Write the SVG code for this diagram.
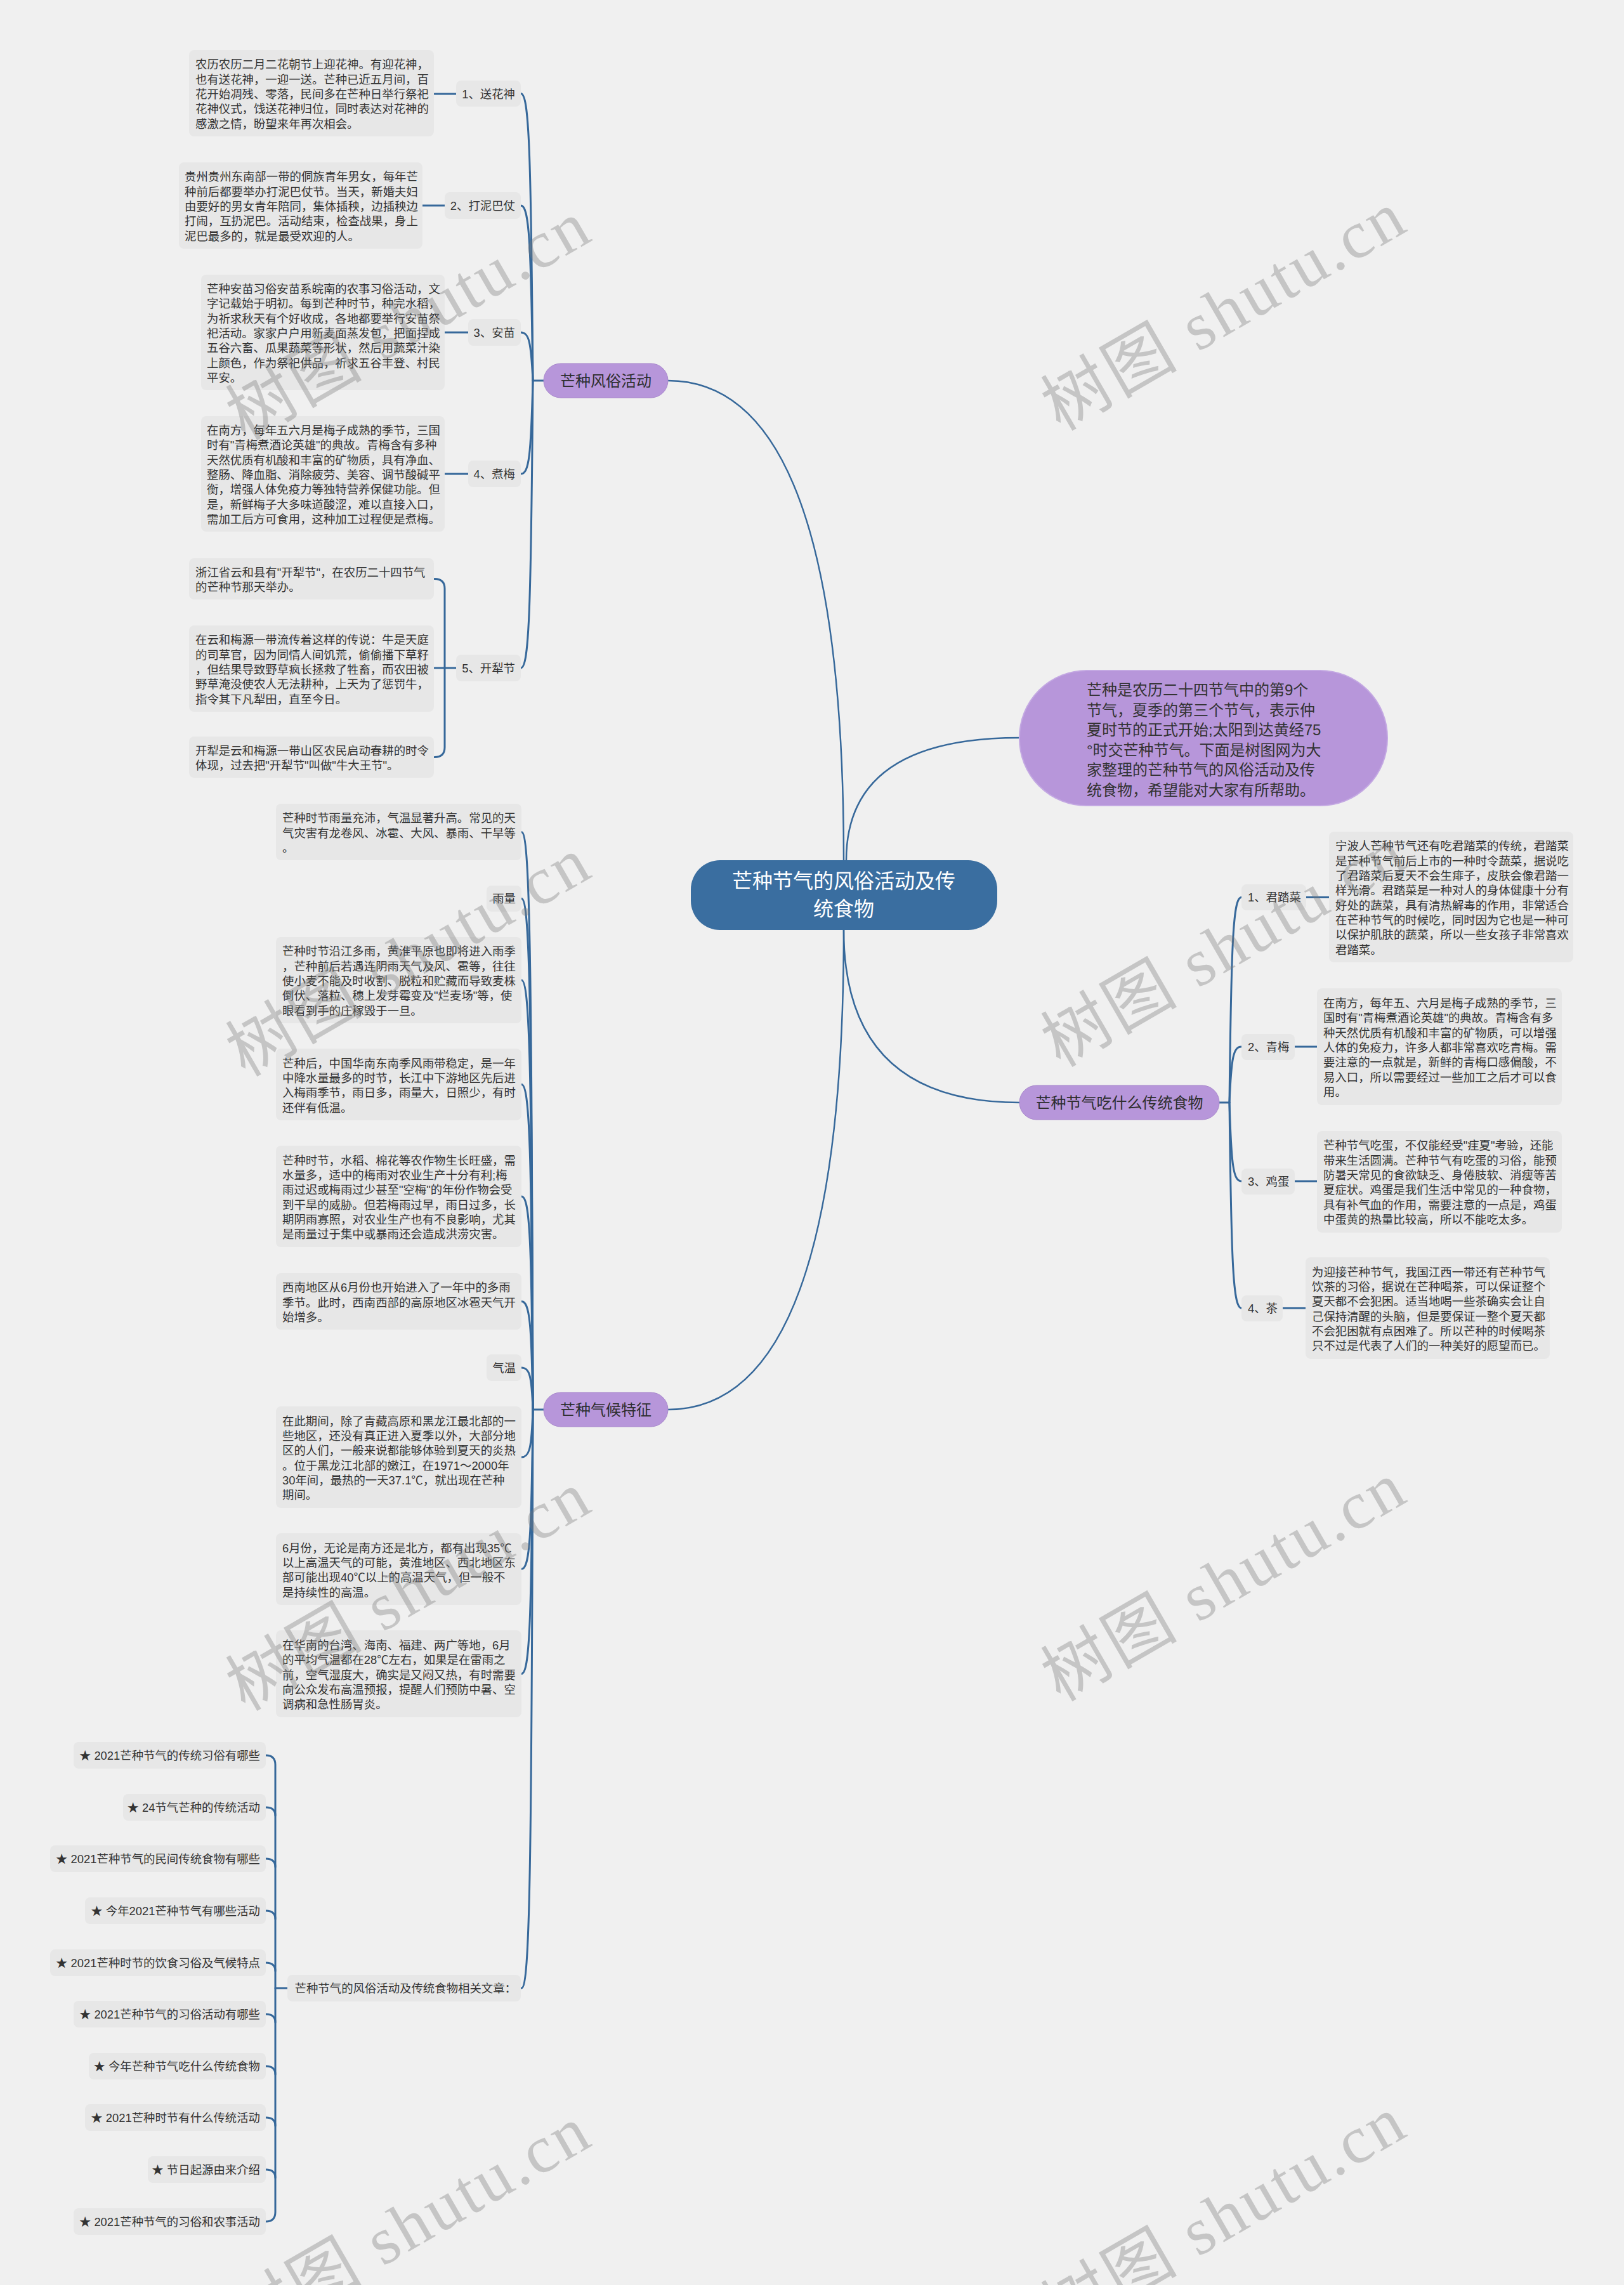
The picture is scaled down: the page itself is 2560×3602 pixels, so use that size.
<svg xmlns="http://www.w3.org/2000/svg" width="2560" height="3602" viewBox="0 0 2560 3602">
<style>
.bg{fill:#f0f0f0}
.box{fill:#e7e7e7}
.t{font-family:"Liberation Sans","Noto Sans CJK SC",sans-serif;font-size:18.4px;fill:#333333;dominant-baseline:central}
.te{font-family:"Liberation Sans","Noto Sans CJK SC",sans-serif;font-size:18.4px;fill:#333333;dominant-baseline:central;text-anchor:end}
.cat{fill:#b796da;stroke:#a887cc;stroke-width:1}
.catt{font-family:"Liberation Sans","Noto Sans CJK SC",sans-serif;font-size:24px;fill:#2e2e2e;dominant-baseline:central;text-anchor:middle}
.ln{fill:none;stroke:#36689a;stroke-width:3;stroke-linecap:round}
.ln2{fill:none;stroke:#36689a;stroke-width:2.5;stroke-linecap:round}
.wm{font-family:"Liberation Serif","Noto Sans CJK SC",serif;font-size:106px;letter-spacing:4px;fill:#7a7a7a;fill-opacity:0.36;text-anchor:middle;dominant-baseline:central}
</style>
<rect class="bg" x="0" y="0" width="2560" height="3602"/>

<g id="connectors">
<path class="ln2" d="M1330 1356 Q1330 600 1053 600"/>
<path class="ln2" d="M1334 1356 Q1334 1163 1607 1163"/>
<path class="ln2" d="M1330 1466 Q1330 1738 1607 1738"/>
<path class="ln2" d="M1330 1466 Q1330 2222 1053 2222"/>
<path class="ln" d="M840 600 L857 600"/>
<path class="ln" d="M821 147.5 C834 147.5 837 238 840 600"/>
<path class="ln" d="M821 324 C834 324 837 379 840 600"/>
<path class="ln" d="M821 524 C834 524 837 539 840 600"/>
<path class="ln" d="M821 747 C834 747 837 718 840 600"/>
<path class="ln" d="M821 1053 C834 1053 837 962 840 600"/>
<path class="ln" d="M685 148 L719 148"/>
<path class="ln" d="M666 324 L701 324"/>
<path class="ln" d="M701 524 L738 524"/>
<path class="ln" d="M701 747 L738 747"/>
<path class="ln" d="M685 1053 L719 1053"/>
<path class="ln" d="M685 912.5 Q701 912.5 701 928 L701 1178 Q701 1193.5 685 1193.5"/>
<path class="ln" d="M840 2222 L857 2222"/>
<path class="ln" d="M822 1311.5 C835 1311.5 838 1493.6 840 2222"/>
<path class="ln" d="M822 1416.5 C835 1416.5 838 1577.6 840 2222"/>
<path class="ln" d="M822 1545 C835 1545 838 1680.4 840 2222"/>
<path class="ln" d="M822 1709.5 C835 1709.5 838 1812 840 2222"/>
<path class="ln" d="M822 1886 C835 1886 838 1953 840 2222"/>
<path class="ln" d="M822 2051.5 C835 2051.5 838 2085.6 840 2222"/>
<path class="ln" d="M822 2156 C835 2156 838 2169 840 2222"/>
<path class="ln" d="M822 2297 C835 2297 838 2282 840 2222"/>
<path class="ln" d="M822 2473.5 C835 2473.5 838 2423 840 2222"/>
<path class="ln" d="M822 2638.5 C835 2638.5 838 2555 840 2222"/>
<path class="ln" d="M822 3134 C835 3134 838 2951.6 840 2222"/>
<path class="ln" d="M434 3134 L453 3134"/>
<path class="ln" d="M419 2767 Q434 2767 434 2782 L434 3487 Q434 3502 419 3502"/>
<path class="ln" d="M419 2849 Q434 2849 434 2862"/>
<path class="ln" d="M419 2930 Q434 2930 434 2943"/>
<path class="ln" d="M419 3012 Q434 3012 434 3025"/>
<path class="ln" d="M419 3094 Q434 3094 434 3107"/>
<path class="ln" d="M419 3175 Q434 3175 434 3188"/>
<path class="ln" d="M419 3257 Q434 3257 434 3270"/>
<path class="ln" d="M419 3338 Q434 3338 434 3351"/>
<path class="ln" d="M419 3420 Q434 3420 434 3433"/>
<path class="ln" d="M1922 1738 L1938 1738"/>
<path class="ln" d="M1957 1414.5 C1944 1414.5 1941 1479 1938 1738"/>
<path class="ln" d="M1957 1650 C1944 1650 1941 1667.6 1938 1738"/>
<path class="ln" d="M1957 1862 C1944 1862 1941 1837 1938 1738"/>
<path class="ln" d="M1957 2062 C1944 2062 1941 1997 1938 1738"/>
<path class="ln" d="M2059 1414.5 L2095 1414.5"/>
<path class="ln" d="M2041 1650 L2076 1650"/>
<path class="ln" d="M2041 1862 L2076 1862"/>
<path class="ln" d="M2022 2062 L2058 2062"/>
</g>

<g id="center">
<rect x="1089" y="1356" width="483" height="110" rx="46" fill="#3a6ea0"/>
<text font-family="Liberation Sans,Noto Sans CJK SC,sans-serif" font-size="32" fill="#ffffff" text-anchor="middle" dominant-baseline="central"><tspan x="1330" y="1389">芒种节气的风俗活动及传</tspan><tspan x="1330" y="1433">统食物</tspan></text>
</g>

<g id="intro">
<rect x="1607" y="1057" width="580" height="213" rx="106" ry="106" fill="#b796da" stroke="#c3a8e2" stroke-width="2"/>
<text font-family="Liberation Sans,Noto Sans CJK SC,sans-serif" font-size="24" fill="#333333" dominant-baseline="central"><tspan x="1713" y="1087">芒种是农历二十四节气中的第9个</tspan><tspan x="1713" y="1118.5">节气，夏季的第三个节气，表示仲</tspan><tspan x="1713" y="1150">夏时节的正式开始;太阳到达黄经75</tspan><tspan x="1713" y="1181.5">°时交芒种节气。下面是树图网为大</tspan><tspan x="1713" y="1213">家整理的芒种节气的风俗活动及传</tspan><tspan x="1713" y="1244.5">统食物，希望能对大家有所帮助。</tspan></text>
</g>

<g id="cat-fengsu">
<rect class="cat" x="857" y="573" width="196" height="54" rx="27"/>
<text class="catt" x="955" y="600">芒种风俗活动</text>
</g>
<g id="cat-qihou">
<rect class="cat" x="857" y="2195" width="196" height="54" rx="27"/>
<text class="catt" x="955" y="2222">芒种气候特征</text>
</g>
<g id="cat-shiwu">
<rect class="cat" x="1607" y="1711" width="315" height="54" rx="27"/>
<text class="catt" x="1764.5" y="1738">芒种节气吃什么传统食物</text>
</g>

<g id="l-songhuashen"><rect class="box" x="719" y="127" width="102" height="41" rx="8"/><text class="te" x="812" y="148">1、送花神</text></g>
<g id="d-songhuashen"><rect class="box" x="298" y="79" width="386" height="136" rx="8"/>
<text class="t"><tspan x="308" y="101.3">农历农历二月二花朝节上迎花神。有迎花神，</tspan><tspan x="308" y="124.7">也有送花神，一迎一送。芒种已近五月间，百</tspan><tspan x="308" y="148">花开始凋残、零落，民间多在芒种日举行祭祀</tspan><tspan x="308" y="171.3">花神仪式，饯送花神归位，同时表达对花神的</tspan><tspan x="308" y="194.7">感激之情，盼望来年再次相会。</tspan></text></g>

<g id="l-danibazhang"><rect class="box" x="701" y="303" width="120" height="42" rx="8"/><text class="te" x="812" y="324">2、打泥巴仗</text></g>
<g id="d-danibazhang"><rect class="box" x="282" y="256" width="384" height="136" rx="8"/>
<text class="t"><tspan x="291" y="278.3">贵州贵州东南部一带的侗族青年男女，每年芒</tspan><tspan x="291" y="301.7">种前后都要举办打泥巴仗节。当天，新婚夫妇</tspan><tspan x="291" y="325">由要好的男女青年陪同，集体插秧，边插秧边</tspan><tspan x="291" y="348.3">打闹，互扔泥巴。活动结束，检查战果，身上</tspan><tspan x="291" y="371.7">泥巴最多的，就是最受欢迎的人。</tspan></text></g>

<g id="l-anmiao"><rect class="box" x="738" y="503" width="83" height="42" rx="8"/><text class="te" x="812" y="524">3、安苗</text></g>
<g id="d-anmiao"><rect class="box" x="317" y="433" width="384" height="182" rx="8"/>
<text class="t"><tspan x="326" y="455">芒种安苗习俗安苗系皖南的农事习俗活动，文</tspan><tspan x="326" y="478.3">字记载始于明初。每到芒种时节，种完水稻，</tspan><tspan x="326" y="501.7">为祈求秋天有个好收成，各地都要举行安苗祭</tspan><tspan x="326" y="525">祀活动。家家户户用新麦面蒸发包，把面捏成</tspan><tspan x="326" y="548.3">五谷六畜、瓜果蔬菜等形状，然后用蔬菜汁染</tspan><tspan x="326" y="571.7">上颜色，作为祭祀供品，祈求五谷丰登、村民</tspan><tspan x="326" y="595">平安。</tspan></text></g>

<g id="l-zhumei"><rect class="box" x="738" y="726" width="83" height="42" rx="8"/><text class="te" x="812" y="747">4、煮梅</text></g>
<g id="d-zhumei"><rect class="box" x="317" y="656" width="384" height="182" rx="8"/>
<text class="t"><tspan x="326" y="678">在南方，每年五六月是梅子成熟的季节，三国</tspan><tspan x="326" y="701.3">时有"青梅煮酒论英雄"的典故。青梅含有多种</tspan><tspan x="326" y="724.7">天然优质有机酸和丰富的矿物质，具有净血、</tspan><tspan x="326" y="748">整肠、降血脂、消除疲劳、美容、调节酸碱平</tspan><tspan x="326" y="771.3">衡，增强人体免疫力等独特营养保健功能。但</tspan><tspan x="326" y="794.7">是，新鲜梅子大多味道酸涩，难以直接入口，</tspan><tspan x="326" y="818">需加工后方可食用，这种加工过程便是煮梅。</tspan></text></g>

<g id="l-kailijie"><rect class="box" x="719" y="1032" width="102" height="42" rx="8"/><text class="te" x="812" y="1053">5、开犁节</text></g>
<g id="d-kailijie-1"><rect class="box" x="298" y="880" width="386" height="65" rx="8"/>
<text class="t"><tspan x="308" y="901.8">浙江省云和县有"开犁节"，在农历二十四节气</tspan><tspan x="308" y="925.2">的芒种节那天举办。</tspan></text></g>
<g id="d-kailijie-2"><rect class="box" x="298" y="986" width="386" height="136" rx="8"/>
<text class="t"><tspan x="308" y="1008.3">在云和梅源一带流传着这样的传说：牛是天庭</tspan><tspan x="308" y="1031.7">的司草官，因为同情人间饥荒，偷偷播下草籽</tspan><tspan x="308" y="1055">，但结果导致野草疯长拯救了牲畜，而农田被</tspan><tspan x="308" y="1078.3">野草淹没使农人无法耕种，上天为了惩罚牛，</tspan><tspan x="308" y="1101.7">指令其下凡犁田，直至今日。</tspan></text></g>
<g id="d-kailijie-3"><rect class="box" x="298" y="1161" width="386" height="65" rx="8"/>
<text class="t"><tspan x="308" y="1182.8">开犁是云和梅源一带山区农民启动春耕的时令</tspan><tspan x="308" y="1206.2">体现，过去把"开犁节"叫做"牛大王节"。</tspan></text></g>

<g id="c1"><rect class="box" x="435" y="1267" width="387" height="89" rx="8"/>
<text class="t"><tspan x="445" y="1289.2">芒种时节雨量充沛，气温显著升高。常见的天</tspan><tspan x="445" y="1312.5">气灾害有龙卷风、冰雹、大风、暴雨、干旱等</tspan><tspan x="445" y="1335.8">。</tspan></text></g>
<g id="c2"><rect class="box" x="767" y="1396" width="55" height="41" rx="8"/><text class="te" x="813" y="1416.5">雨量</text></g>
<g id="c3"><rect class="box" x="435" y="1477" width="387" height="136" rx="8"/>
<text class="t"><tspan x="445" y="1499.3">芒种时节沿江多雨，黄淮平原也即将进入雨季</tspan><tspan x="445" y="1522.7">，芒种前后若遇连阴雨天气及风、雹等，往往</tspan><tspan x="445" y="1546">使小麦不能及时收割、脱粒和贮藏而导致麦株</tspan><tspan x="445" y="1569.3">倒伏、落粒、穗上发芽霉变及"烂麦场"等，使</tspan><tspan x="445" y="1592.7">眼看到手的庄稼毁于一旦。</tspan></text></g>
<g id="c4"><rect class="box" x="435" y="1653" width="387" height="113" rx="8"/>
<text class="t"><tspan x="445" y="1675.5">芒种后，中国华南东南季风雨带稳定，是一年</tspan><tspan x="445" y="1698.8">中降水量最多的时节，长江中下游地区先后进</tspan><tspan x="445" y="1722.2">入梅雨季节，雨日多，雨量大，日照少，有时</tspan><tspan x="445" y="1745.5">还伴有低温。</tspan></text></g>
<g id="c5"><rect class="box" x="435" y="1806" width="387" height="160" rx="8"/>
<text class="t"><tspan x="445" y="1828.7">芒种时节，水稻、棉花等农作物生长旺盛，需</tspan><tspan x="445" y="1852">水量多，适中的梅雨对农业生产十分有利;梅</tspan><tspan x="445" y="1875.3">雨过迟或梅雨过少甚至"空梅"的年份作物会受</tspan><tspan x="445" y="1898.7">到干旱的威胁。但若梅雨过早，雨日过多，长</tspan><tspan x="445" y="1922">期阴雨寡照，对农业生产也有不良影响，尤其</tspan><tspan x="445" y="1945.3">是雨量过于集中或暴雨还会造成洪涝灾害。</tspan></text></g>
<g id="c6"><rect class="box" x="435" y="2007" width="387" height="89" rx="8"/>
<text class="t"><tspan x="445" y="2029.2">西南地区从6月份也开始进入了一年中的多雨</tspan><tspan x="445" y="2052.5">季节。此时，西南西部的高原地区冰雹天气开</tspan><tspan x="445" y="2075.8">始增多。</tspan></text></g>
<g id="c7"><rect class="box" x="767" y="2135" width="55" height="42" rx="8"/><text class="te" x="813" y="2156">气温</text></g>
<g id="c8"><rect class="box" x="435" y="2217" width="387" height="160" rx="8"/>
<text class="t"><tspan x="445" y="2239.7">在此期间，除了青藏高原和黑龙江最北部的一</tspan><tspan x="445" y="2263">些地区，还没有真正进入夏季以外，大部分地</tspan><tspan x="445" y="2286.3">区的人们，一般来说都能够体验到夏天的炎热</tspan><tspan x="445" y="2309.7">。位于黑龙江北部的嫩江，在1971～2000年</tspan><tspan x="445" y="2333">30年间，最热的一天37.1℃，就出现在芒种</tspan><tspan x="445" y="2356.3">期间。</tspan></text></g>
<g id="c9"><rect class="box" x="435" y="2417" width="387" height="113" rx="8"/>
<text class="t"><tspan x="445" y="2439.5">6月份，无论是南方还是北方，都有出现35℃</tspan><tspan x="445" y="2462.8">以上高温天气的可能，黄淮地区、西北地区东</tspan><tspan x="445" y="2486.2">部可能出现40℃以上的高温天气，但一般不</tspan><tspan x="445" y="2509.5">是持续性的高温。</tspan></text></g>
<g id="c10"><rect class="box" x="435" y="2570" width="387" height="137" rx="8"/>
<text class="t"><tspan x="445" y="2592.8">在华南的台湾、海南、福建、两广等地，6月</tspan><tspan x="445" y="2616.2">的平均气温都在28℃左右，如果是在雷雨之</tspan><tspan x="445" y="2639.5">前，空气湿度大，确实是又闷又热，有时需要</tspan><tspan x="445" y="2662.8">向公众发布高温预报，提醒人们预防中暑、空</tspan><tspan x="445" y="2686.2">调病和急性肠胃炎。</tspan></text></g>
<g id="c11"><rect class="box" x="453" y="3113" width="368" height="42" rx="8"/><text class="te" x="814" y="3134">芒种节气的风俗活动及传统食物相关文章：</text></g>

<g id="r1"><rect class="box" x="116" y="2746" width="303" height="42" rx="8"/><text class="te" x="410" y="2767">★ 2021芒种节气的传统习俗有哪些</text></g>
<g id="r2"><rect class="box" x="194" y="2828" width="225" height="42" rx="8"/><text class="te" x="410" y="2849">★ 24节气芒种的传统活动</text></g>
<g id="r3"><rect class="box" x="79" y="2909" width="340" height="42" rx="8"/><text class="te" x="410" y="2930">★ 2021芒种节气的民间传统食物有哪些</text></g>
<g id="r4"><rect class="box" x="134" y="2991" width="285" height="42" rx="8"/><text class="te" x="410" y="3012">★ 今年2021芒种节气有哪些活动</text></g>
<g id="r5"><rect class="box" x="79" y="3073" width="340" height="42" rx="8"/><text class="te" x="410" y="3094">★ 2021芒种时节的饮食习俗及气候特点</text></g>
<g id="r6"><rect class="box" x="116" y="3154" width="303" height="42" rx="8"/><text class="te" x="410" y="3175">★ 2021芒种节气的习俗活动有哪些</text></g>
<g id="r7"><rect class="box" x="140" y="3236" width="279" height="42" rx="8"/><text class="te" x="410" y="3257">★ 今年芒种节气吃什么传统食物</text></g>
<g id="r8"><rect class="box" x="134" y="3317" width="285" height="42" rx="8"/><text class="te" x="410" y="3338">★ 2021芒种时节有什么传统活动</text></g>
<g id="r9"><rect class="box" x="233" y="3399" width="186" height="42" rx="8"/><text class="te" x="410" y="3420">★ 节日起源由来介绍</text></g>
<g id="r10"><rect class="box" x="116" y="3481" width="303" height="42" rx="8"/><text class="te" x="410" y="3502">★ 2021芒种节气的习俗和农事活动</text></g>

<g id="l-juntacai"><rect class="box" x="1957" y="1394" width="102" height="41" rx="8"/><text class="t" x="1967" y="1414.5">1、君踏菜</text></g>
<g id="d-juntacai"><rect class="box" x="2095" y="1311" width="385" height="206" rx="8"/>
<text class="t"><tspan x="2105" y="1333.3">宁波人芒种节气还有吃君踏菜的传统，君踏菜</tspan><tspan x="2105" y="1356.7">是芒种节气前后上市的一种时令蔬菜，据说吃</tspan><tspan x="2105" y="1380">了君踏菜后夏天不会生痱子，皮肤会像君踏一</tspan><tspan x="2105" y="1403.3">样光滑。君踏菜是一种对人的身体健康十分有</tspan><tspan x="2105" y="1426.7">好处的蔬菜，具有清热解毒的作用，非常适合</tspan><tspan x="2105" y="1450">在芒种节气的时候吃，同时因为它也是一种可</tspan><tspan x="2105" y="1473.3">以保护肌肤的蔬菜，所以一些女孩子非常喜欢</tspan><tspan x="2105" y="1496.7">君踏菜。</tspan></text></g>
<g id="l-qingmei"><rect class="box" x="1957" y="1630" width="84" height="41" rx="8"/><text class="t" x="1967" y="1650">2、青梅</text></g>
<g id="d-qingmei"><rect class="box" x="2076" y="1558" width="386" height="184" rx="8"/>
<text class="t"><tspan x="2086" y="1581">在南方，每年五、六月是梅子成熟的季节，三</tspan><tspan x="2086" y="1604.3">国时有"青梅煮酒论英雄"的典故。青梅含有多</tspan><tspan x="2086" y="1627.7">种天然优质有机酸和丰富的矿物质，可以增强</tspan><tspan x="2086" y="1651">人体的免疫力，许多人都非常喜欢吃青梅。需</tspan><tspan x="2086" y="1674.3">要注意的一点就是，新鲜的青梅口感偏酸，不</tspan><tspan x="2086" y="1697.7">易入口，所以需要经过一些加工之后才可以食</tspan><tspan x="2086" y="1721">用。</tspan></text></g>
<g id="l-jidan"><rect class="box" x="1957" y="1842" width="84" height="41" rx="8"/><text class="t" x="1967" y="1862">3、鸡蛋</text></g>
<g id="d-jidan"><rect class="box" x="2076" y="1783" width="386" height="160" rx="8"/>
<text class="t"><tspan x="2086" y="1805.2">芒种节气吃蛋，不仅能经受"疰夏"考验，还能</tspan><tspan x="2086" y="1828.5">带来生活圆满。芒种节气有吃蛋的习俗，能预</tspan><tspan x="2086" y="1851.8">防暑天常见的食欲缺乏、身倦肢软、消瘦等苦</tspan><tspan x="2086" y="1875.2">夏症状。鸡蛋是我们生活中常见的一种食物，</tspan><tspan x="2086" y="1898.5">具有补气血的作用，需要注意的一点是，鸡蛋</tspan><tspan x="2086" y="1921.8">中蛋黄的热量比较高，所以不能吃太多。</tspan></text></g>
<g id="l-cha"><rect class="box" x="1957" y="2042" width="65" height="41" rx="8"/><text class="t" x="1967" y="2062">4、茶</text></g>
<g id="d-cha"><rect class="box" x="2058" y="1982" width="385" height="160" rx="8"/>
<text class="t"><tspan x="2068" y="2004.7">为迎接芒种节气，我国江西一带还有芒种节气</tspan><tspan x="2068" y="2028">饮茶的习俗，据说在芒种喝茶，可以保证整个</tspan><tspan x="2068" y="2051.3">夏天都不会犯困。适当地喝一些茶确实会让自</tspan><tspan x="2068" y="2074.7">己保持清醒的头脑，但是要保证一整个夏天都</tspan><tspan x="2068" y="2098">不会犯困就有点困难了。所以芒种的时候喝茶</tspan><tspan x="2068" y="2121.3">只不过是代表了人们的一种美好的愿望而已。</tspan></text></g>

<g id="watermarks">
<text class="wm" transform="translate(645 505) rotate(-30)">树图 shutu.cn</text>
<text class="wm" transform="translate(645 1508) rotate(-30)">树图 shutu.cn</text>
<text class="wm" transform="translate(645 2508) rotate(-30)">树图 shutu.cn</text>
<text class="wm" transform="translate(645 3508) rotate(-30)">树图 shutu.cn</text>
<text class="wm" transform="translate(1930 490) rotate(-30)">树图 shutu.cn</text>
<text class="wm" transform="translate(1930 1493) rotate(-30)">树图 shutu.cn</text>
<text class="wm" transform="translate(1930 2493) rotate(-30)">树图 shutu.cn</text>
<text class="wm" transform="translate(1930 3493) rotate(-30)">树图 shutu.cn</text>
</g>
</svg>
